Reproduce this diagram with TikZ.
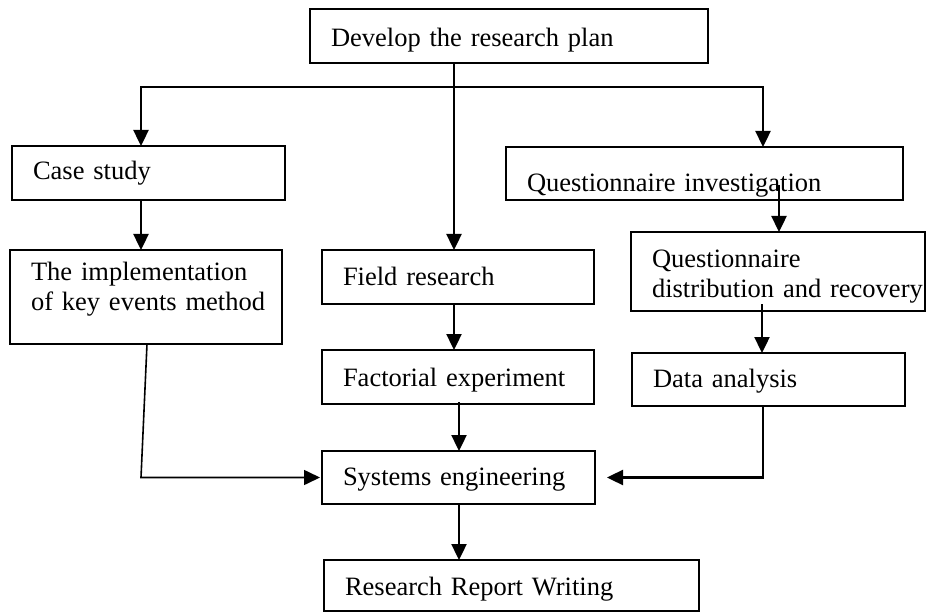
\documentclass[tikz,border=0pt]{standalone}
\usepackage{fontspec}
\setmainfont{Liberation Serif}
\usetikzlibrary{arrows.meta}

\begin{document}
\begin{tikzpicture}[x=1pt, y=-1pt,
    box/.style={draw, line width=1.7pt, anchor=north west, outer sep=0pt,
        inner xsep=21pt, inner ysep=0pt, align=left,
        font=\fontsize{26.5}{30}\selectfont},
    arr/.style={line width=2.4pt, -{Triangle[length=16pt, width=15pt]}},
    thinarr/.style={line width=1.6pt, -{Triangle[length=16pt, width=15pt]}}]
    \useasboundingbox (0,0) rectangle (926,612);

    % Top box
    \node[box, text width=356pt, text height=38pt, text depth=16pt] (plan) at (310,9) {Develop the research plan};

    % Left column
    \node[box, text width=231pt, text height=34pt, text depth=20pt] (case) at (12,146) {Case study};
    \node[box, text width=230pt, text height=30pt, text depth=64pt] (impl) at (10,250) {The implementation\\\mbox{of key events method}};

    % Middle column
    \node[box, text width=230pt, text height=36pt, text depth=18pt] (field) at (322,250) {Field research};
    \node[box, text width=230pt, text height=36pt, text depth=18pt] (factorial) at (322,350) {Factorial experiment};
    \node[box, text width=231pt, text height=34pt, text depth=19pt] (systems) at (322,451) {Systems engineering};
    \node[box, text width=333pt, text height=35pt, text depth=16pt] (report) at (324,560) {Research Report Writing};

    % Right column
    \node[box, text width=355pt, text height=45pt, text depth=8pt] (quest) at (506,147) {Questionnaire investigation};
    \node[box, text width=252pt, text height=36pt, text depth=43pt] (distrib) at (631,232) {Questionnaire\\\mbox{distribution and recovery}};
    \node[box, text width=231pt, text height=34pt, text depth=19pt] (data) at (632,353) {Data analysis};

    % Split from the plan
    \coordinate (fork) at ([xshift=144pt, yshift=-24pt]plan.south west);
    \draw[arr] ([xshift=144pt]plan.south west) -- ([xshift=132pt]field.north west);
    \draw[arr] (fork) -| ([xshift=129pt]case.north west);
    \draw[arr] (fork) -| ([xshift=257pt]quest.north west);

    % Down the columns
    \draw[arr] ([xshift=129pt]case.south west) -- ([xshift=131pt]impl.north west);
    \draw[arr] ([xshift=132pt]field.south west) -- ([xshift=132pt]factorial.north west);
    \draw[arr] ([xshift=137pt, yshift=2pt]factorial.south west) -- ([xshift=137pt]systems.north west);
    \draw[arr] ([xshift=137pt]systems.south west) -- ([xshift=135pt]report.north west);
    \draw[arr] ([xshift=273pt, yshift=15pt]quest.south west) -- ([xshift=148pt]distrib.north west);
    \draw[arr] ([xshift=131pt, yshift=7pt]distrib.south west) -- ([xshift=130pt]data.north west);

    % Into systems engineering
    \draw[thinarr] ([xshift=137pt]impl.south west) -- ([xshift=131pt]impl.south west |- systems.west) -- ([xshift=-2pt]systems.west);
    \draw[arr] ([xshift=131pt]data.south west) |- ([xshift=12pt]systems.east);
\end{tikzpicture}
\end{document}
